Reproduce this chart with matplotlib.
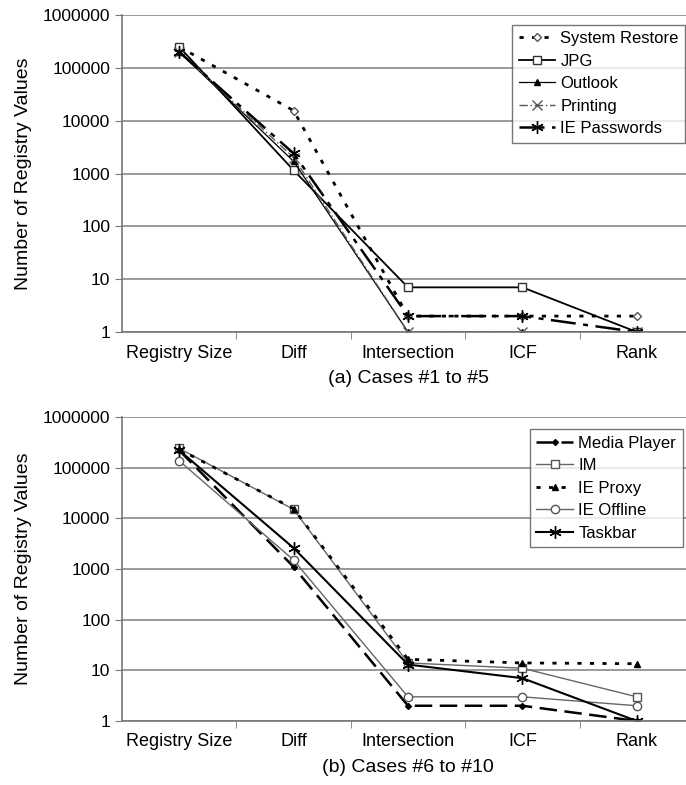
import matplotlib.pyplot as plt
from matplotlib.ticker import FixedLocator, NullLocator, FuncFormatter

plt.rcParams['font.family'] = ['Liberation Sans', 'DejaVu Sans']

stages = ['Registry Size', 'Diff', 'Intersection', 'ICF', 'Rank']

# cases #1 to #5
system_restore = [250000, 15500, 2, 2, 2]
jpg = [250000, 1150, 7, 7, 1]
outlook = [200000, 1700, 1, 1, 1]
printing = [200000, 2000, 1, 1, 1]
ie_passwords = [200000, 2400, 2, 2, 1]

# cases #6 to #10
media_player = [220000, 1100, 2, 2, 1]
im = [240000, 15000, 14, 11, 3]
ie_proxy = [230000, 15500, 16.5, 14, 13.5]
ie_offline = [137000, 1500, 3, 3, 2]
taskbar = [220000, 2600, 13, 7, 1]

x = range(len(stages))
asterisk = (6, 2, 0)

fig = plt.figure(figsize=(6.86, 7.85), dpi=100)
ax1 = fig.add_axes([122/686, 1-332/785, 572/686, 317/785])
ax2 = fig.add_axes([122/686, 1-721/785, 572/686, 304/785])

ax1.plot(x, system_restore, ls=(0, (1.5, 3)), lw=2, color='black', marker='D', ms=4.5,
         mfc='white', mec='#555555', label='System Restore')
ax1.plot(x, jpg, ls='-', lw=1.3, color='black', marker='s', ms=6, mfc='white',
         mec='#333333', label='JPG')
ax1.plot(x, outlook, ls='-', lw=0.9, color='black', marker='^', ms=4.5, label='Outlook')
ax1.plot(x, printing, ls=(0, (6, 2, 1, 2)), lw=1, color='#555555', marker='x', ms=7,
         label='Printing')
ax1.plot(x, ie_passwords, ls=(0, (10, 3, 2, 3)), lw=1.8, color='black', marker=asterisk,
         ms=9, mew=1, label='IE Passwords')

ax2.plot(x, media_player, ls=(0, (7, 3)), lw=1.8, color='black', marker='D', ms=3,
         label='Media Player')
ax2.plot(x, im, ls='-', lw=1, color='#666666', marker='s', ms=6, mfc='white',
         mec='#555555', label='IM')
ax2.plot(x, ie_proxy, ls=(0, (1.5, 3)), lw=2, color='black', marker='^', ms=4.5,
         label='IE Proxy')
ax2.plot(x, ie_offline, ls='-', lw=1, color='#666666', marker='o', ms=6, mfc='white',
         mec='#555555', label='IE Offline')
ax2.plot(x, taskbar, ls='-', lw=1.5, color='black', marker=asterisk, ms=9, mew=1,
         label='Taskbar')

for ax, title in [(ax1, '(a) Cases #1 to #5'), (ax2, '(b) Cases #6 to #10')]:
    ax.set_yscale('log')
    ax.set_ylim(1, 1000000)
    ax.set_xlim(-0.5, 4.5)
    ax.yaxis.set_major_locator(FixedLocator([1, 10, 100, 1000, 10000, 100000, 1000000]))
    ax.yaxis.set_minor_locator(NullLocator())
    ax.yaxis.set_major_formatter(FuncFormatter(lambda v, p: '%d' % round(v)))
    ax.grid(axis='y', color='#888888', lw=1.2)
    ax.set_axisbelow(True)
    ax.set_xticks(list(x))
    ax.set_xticklabels(stages, fontsize=13)
    ax.tick_params(axis='x', which='major', length=0, pad=9)
    ax.set_xticks([0.5, 1.5, 2.5, 3.5], minor=True)
    ax.tick_params(axis='x', which='minor', length=5, color='#777777')
    ax.tick_params(axis='y', labelsize=12.5, length=5, color='#777777', direction='out')
    for s in ['top', 'right']:
        ax.spines[s].set_visible(False)
    for s in ['left', 'bottom']:
        ax.spines[s].set_color('#777777')
        ax.spines[s].set_linewidth(1.2)
    ax.set_xlabel(title, fontsize=14, labelpad=6)
    ax.set_ylabel('Number of Registry Values', fontsize=14, labelpad=8)
    leg = ax.legend(loc='upper right', bbox_to_anchor=(0.985, 0.97) if ax is ax1 else (0.98, 0.96),
                    fontsize=12, frameon=True, fancybox=False, edgecolor='#555555',
                    handlelength=2.2, handletextpad=0.3, borderpad=0.4, labelspacing=0.45,
                    borderaxespad=0)
    leg.get_frame().set_linewidth(1)

fig.savefig('out.png', dpi=100)
